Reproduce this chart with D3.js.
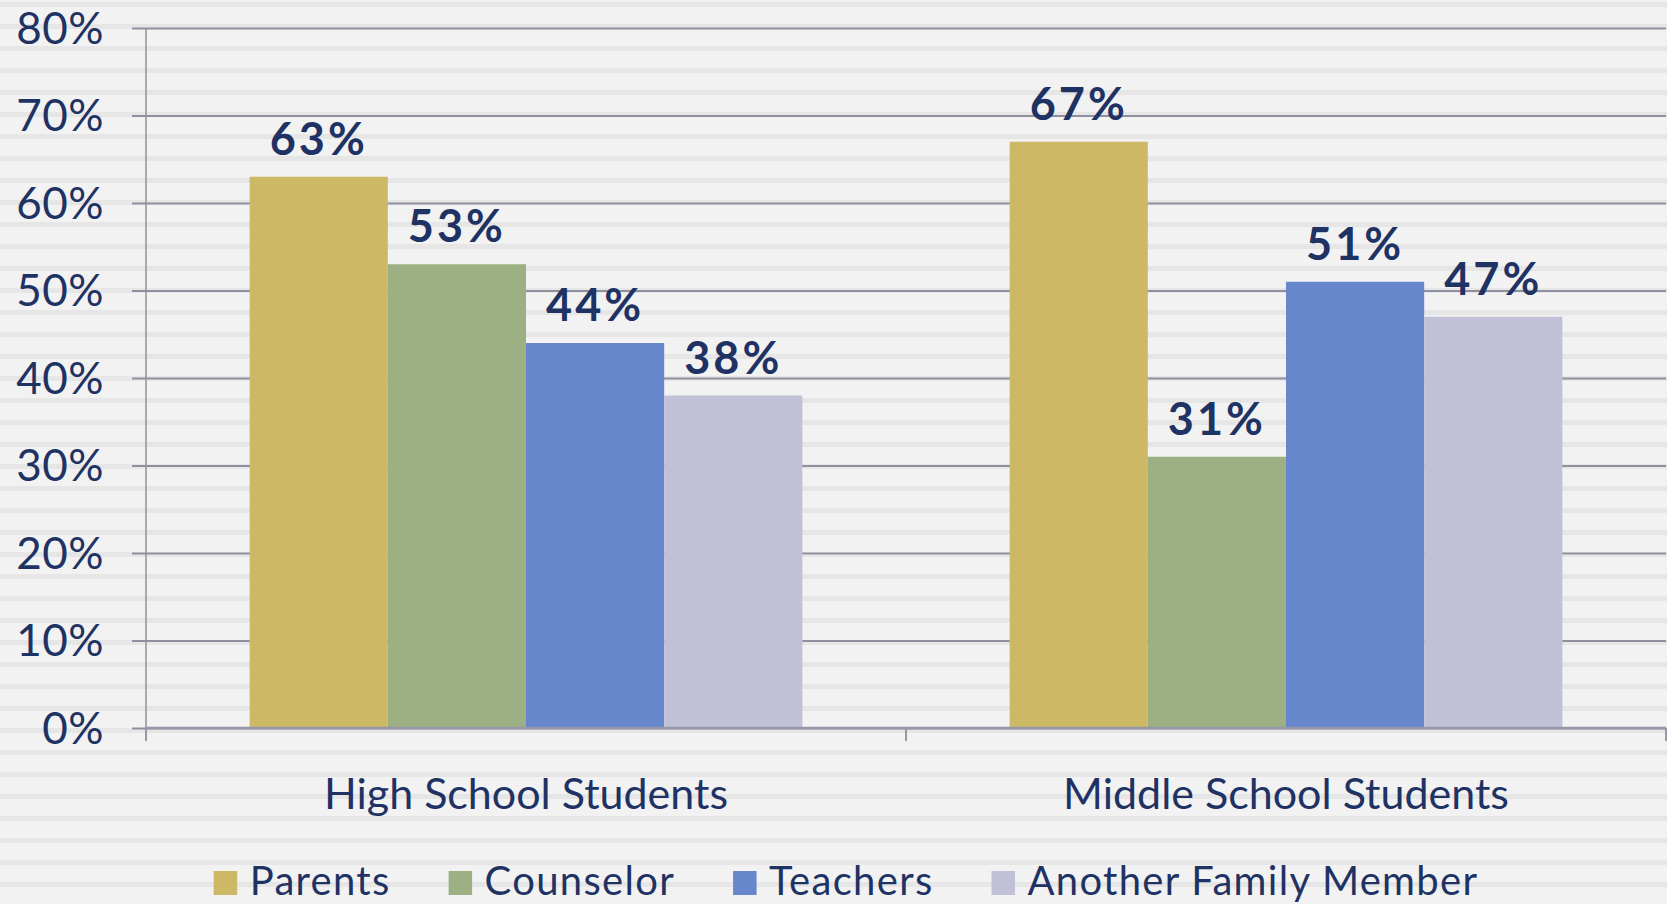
<!DOCTYPE html>
<html>
<head>
<meta charset="utf-8">
<script src="https://cdn.jsdelivr.net/npm/d3@7"></script>
<style>
  html, body { margin: 0; padding: 0; background: #f2f2f2; }
  svg { display: block; }
  text { font-family: Lato, "Noto Sans", sans-serif; fill: #1f3264; }
</style>
</head>
<body>
<svg id="chart" width="1667" height="904"></svg>
<script>
// ---- data ----
const categories = ["High School Students", "Middle School Students"];
const series = ["Parents", "Counselor", "Teachers", "Another Family Member"];
const parents = [0.63, 0.67];
const counselor = [0.53, 0.31];
const teachers = [0.44, 0.51];
const anotherFamily = [0.38, 0.47];
const yTicks = [0, 0.1, 0.2, 0.3, 0.4, 0.5, 0.6, 0.7, 0.8];
const colors = ["#cdb865", "#9db083", "#6787cd", "#c0c1d6"];

const valuesBySeries = [parents, counselor, teachers, anotherFamily];

const W = 1667, H = 904;
const plotLeft = 146, plotRight = 1666, plotTop = 28, plotBottom = 728;

const svg = d3.select("#chart");

// striped background
const stripes = d3.range(2, H, 22);
svg.append("rect").attr("width", W).attr("height", H).attr("fill", "#f2f2f2");
svg.append("g").selectAll("rect").data(stripes).join("rect")
  .attr("x", 0).attr("y", d => d).attr("width", W).attr("height", 5)
  .attr("fill", "#e6e6e6");

const y = d3.scaleLinear().domain([0, 0.8]).range([plotBottom, plotTop]);
const x0 = d3.scaleBand().domain(categories).range([plotLeft, plotRight]).padding(0);
const x1 = d3.scaleBand().domain(series).range([0, x0.bandwidth()]).paddingInner(0).paddingOuter(0.75);
const color = d3.scaleOrdinal().domain(series).range(colors);

// y axis with gridlines
const yAxis = d3.axisLeft(y)
  .tickValues(yTicks)
  .tickFormat(d3.format(".0%"))
  .tickSizeInner(-(plotRight - plotLeft + 14))
  .tickSizeOuter(0)
  .tickPadding(28);
const gy = svg.append("g").attr("transform", `translate(${plotLeft - 14},0)`).call(yAxis);
gy.select(".domain").remove();
gy.selectAll(".tick line").attr("stroke", "#8e90a0").attr("stroke-width", 2);
gy.selectAll(".tick text")
  .attr("font-size", 44).attr("font-family", "Lato, 'Noto Sans', sans-serif")
  .attr("fill", "#1f3264").attr("dy", null)
  .attr("y", 15).attr("letter-spacing", 0.5);

// vertical axis line
svg.append("line")
  .attr("x1", plotLeft).attr("x2", plotLeft)
  .attr("y1", y(0.8)).attr("y2", plotBottom + 13)
  .attr("stroke", "#8e90a0").attr("stroke-width", 1.5);

// bars
const rows = [];
categories.forEach((c, ci) => {
  series.forEach((s, si) => rows.push({ c, s, v: valuesBySeries[si][ci] }));
});

const bars = svg.append("g");
bars.selectAll("rect").data(rows).join("rect")
  .attr("x", d => x0(d.c) + x1(d.s))
  .attr("y", d => y(d.v))
  .attr("width", x1.bandwidth())
  .attr("height", d => y(0) - y(d.v))
  .attr("fill", d => color(d.s));

// data labels
svg.append("g").selectAll("text").data(rows).join("text")
  .attr("x", d => x0(d.c) + x1(d.s) + x1.bandwidth() / 2)
  .attr("y", d => y(d.v) - 22)
  .attr("text-anchor", "middle")
  .attr("font-size", 45)
  .attr("font-weight", "bold")
  .attr("letter-spacing", 3)
  .text(d => d3.format(".0%")(d.v));

// x axis line & boundary ticks
svg.append("line")
  .attr("x1", plotLeft).attr("x2", plotRight)
  .attr("y1", y(0)).attr("y2", y(0))
  .attr("stroke", "#9598a8").attr("stroke-width", 2.5);
const boundaries = [x0.range()[0]].concat(categories.map(c => x0(c) + x0.bandwidth()));
svg.append("g").selectAll("line").data(boundaries).join("line")
  .attr("x1", d => d).attr("x2", d => d)
  .attr("y1", y(0)).attr("y2", y(0) + 13)
  .attr("stroke", "#9598a8").attr("stroke-width", 2);

// category labels
svg.append("g").selectAll("text").data(categories).join("text")
  .attr("x", d => x0(d) + x0.bandwidth() / 2)
  .attr("y", y(0) + 81)
  .attr("text-anchor", "middle")
  .attr("font-size", 43)
  .text(d => d);

// legend
const legend = svg.append("g");
const items = legend.selectAll("g").data(series).join("g");
items.append("rect").attr("width", 23.5).attr("height", 24).attr("y", 871)
  .attr("fill", d => color(d));
items.append("text").attr("x", 36).attr("y", 895).attr("font-size", 40)
  .attr("letter-spacing", 1.3).text(d => d);
const widths = [];
items.each(function () {
  const w = 36 + d3.select(this).select("text").node().getComputedTextLength();
  widths.push(w);
});
const gap = 58;
const total = d3.sum(widths) + gap * (widths.length - 1);
let start = 846 - total / 2;
items.attr("transform", (d, i) => {
  const t = `translate(${start},0)`;
  start += widths[i] + gap;
  return t;
});
</script>
</body>
</html>
